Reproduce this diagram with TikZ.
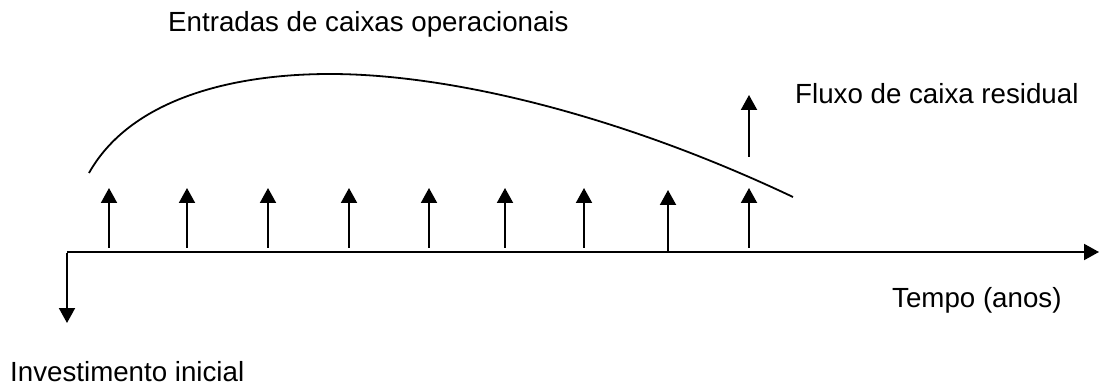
\documentclass[tikz,border=0pt]{standalone}
\usepackage{fontspec}
\setmainfont{Liberation Sans}
\usetikzlibrary{arrows.meta}
\begin{document}
\begin{tikzpicture}[x=1pt,y=-1pt,
  flow/.style={line width=2pt,-{Triangle[width=16pt,length=15pt]}},
  lbl/.style={anchor=base west,inner sep=0pt,font=\fontsize{27.7}{33}\selectfont}]
\useasboundingbox (0,0) rectangle (1100,387);
% axis
\coordinate (o) at (67,252);
\coordinate (tend) at (1099,252);
\coordinate (inv) at (67,323);
\draw[flow] (o) -- (tend);
\draw[flow] ([yshift=-1pt]o) -- (inv);
% operating inflows
\foreach \i/\x/\b/\t in {1/109/248/188,2/187/248/188,3/268/248/188,4/349/248/188,5/429/248/188,6/505/248/188,7/584/248/188,8/668/251/190,9/749/248/188}{
  \coordinate (b\i) at (\x,\b);
  \coordinate (t\i) at (\x,\t);
  \draw[flow] (b\i) -- (t\i);
}
% residual flow
\coordinate (rb) at (749,157);
\coordinate (rt) at (749,95);
\draw[flow] (rb) -- (rt);
% curve
\coordinate (cs) at (89,173);
\coordinate (cp) at (330,74);
\coordinate (ce) at (793,197);
\draw[line width=1.8pt] (cs) .. controls (130,100) and (230,74) .. (cp)
  .. controls (450,74) and (620,115) .. (ce);
% labels
\node[lbl] (entradas) at (168,32) {Entradas de caixas operacionais};
\node[lbl] (residual) at (795,104) {Fluxo de caixa residual};
\node[lbl] (tempo) at (892,308) {Tempo (anos)};
\node[lbl] (invest) at (10,381) {Investimento inicial};
\end{tikzpicture}
\end{document}
